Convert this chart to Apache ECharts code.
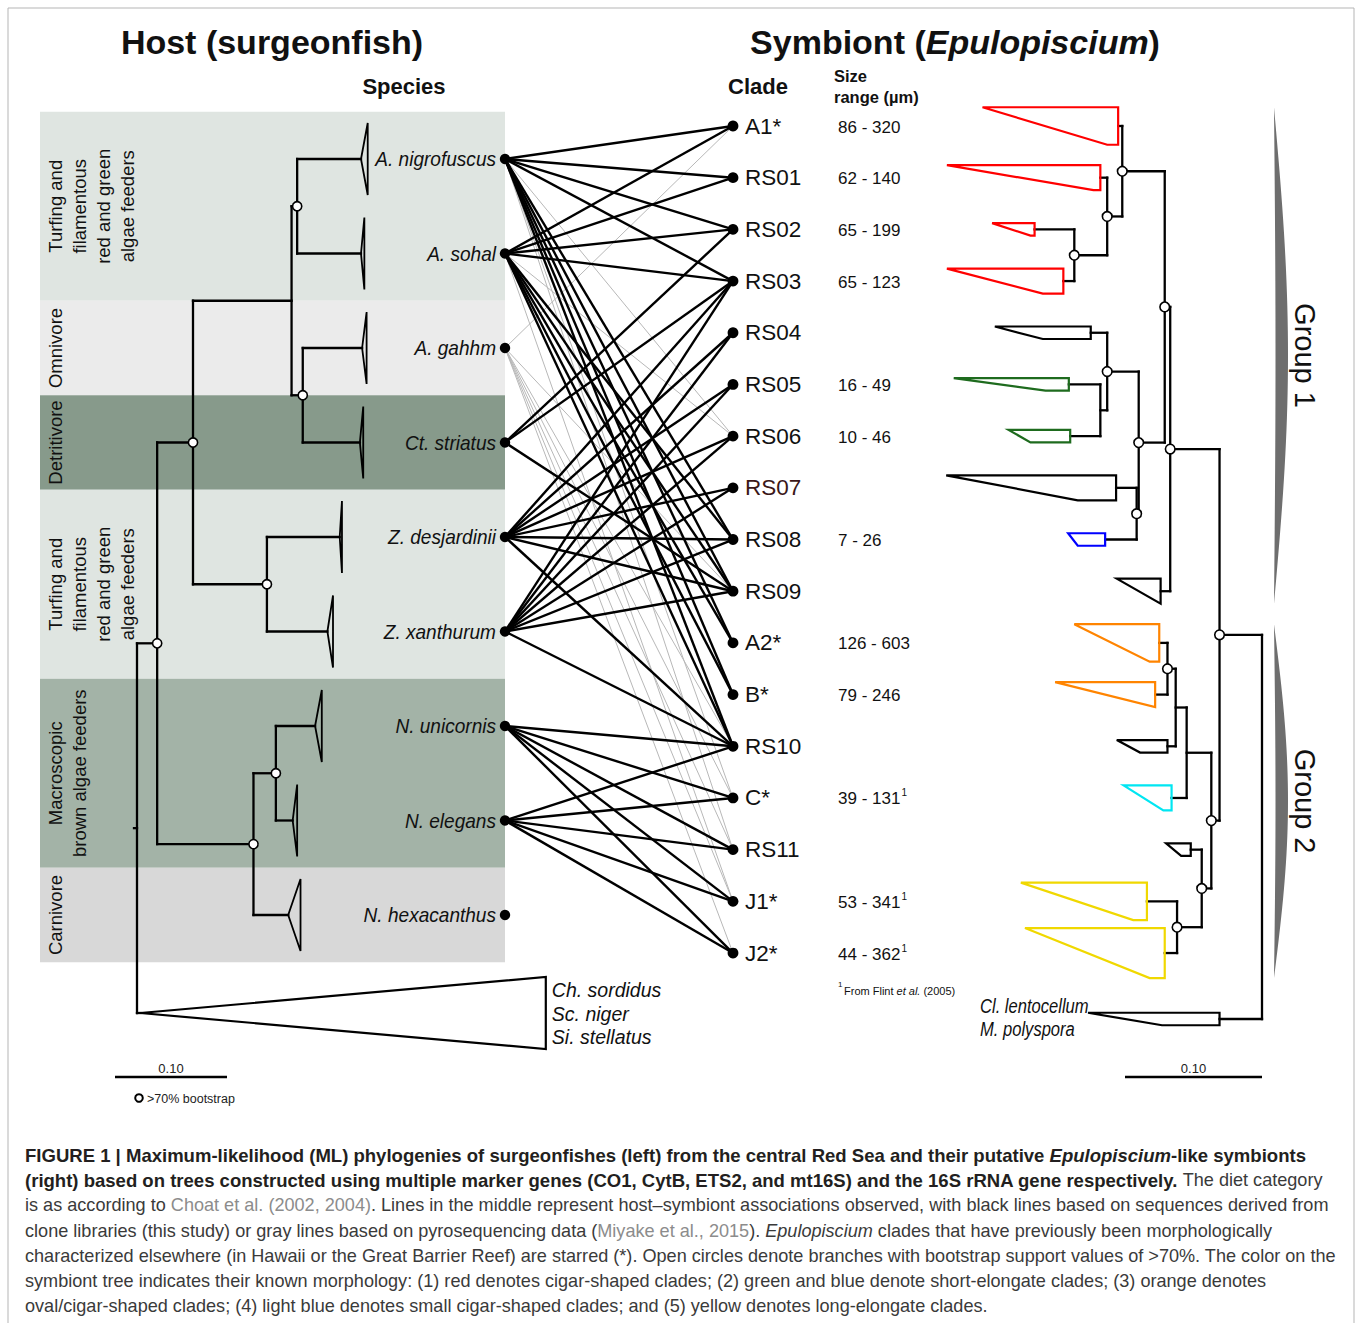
<!DOCTYPE html>
<html><head><meta charset="utf-8">
<script src="https://cdn.jsdelivr.net/npm/echarts@6/dist/echarts.min.js"></script>
<style>html,body{margin:0;padding:0;background:#fff}#chart{width:1358px;height:1323px}</style>
</head><body><div id="chart"></div>
<script>
// ======================= DATA =======================
// Host (surgeonfish) species, top to bottom
const hostSpecies = ['A. nigrofuscus','A. sohal','A. gahhm','Ct. striatus','Z. desjardinii','Z. xanthurum','N. unicornis','N. elegans','N. hexacanthus'];
// Diet categories (Choat et al.) and the host rows they cover
const dietCategories = ['Turfing and\nfilamentous\nred and green\nalgae feeders','Omnivore','Detritivore','Turfing and\nfilamentous\nred and green\nalgae feeders','Macroscopic\nbrown algae feeders','Carnivore'];
const dietKind = ['turf','omni','detr','turf','macro','carn'];
const dietFirstRow = [0,2,3,4,6,8];
const dietLastRow  = [1,2,3,5,7,8];
// Host ML tree (branch lengths in substitutions/site, "b" = bootstrap > 70%)
const hostTreeNewick = "(((((A. nigrofuscus:0.057,A. sohal:0.057)b:0.005,(A. gahhm:0.053,Ct. striatus:0.051)b:0.010):0.088,(Z. desjardinii:0.065,Z. xanthurum:0.054)b:0.066)b:0.032,((N. unicornis:0.035,N. elegans:0.015)b:0.020,N. hexacanthus:0.031)b:0.086)b:0.018,OUT:0.003);";
// depth of each collapsed host clade (triangle), same order as hostSpecies
const hostCladeDepth = [0.006,0.003,0.004,0.003,0.002,0.005,0.006,0.004,0.011];
const hostOutgroupDepth = 0.362;
const hostOutgroupTaxa = ['Ch. sordidus','Sc. niger','Si. stellatus'];

// Symbiont (Epulopiscium) clades, top to bottom
const symbiontClades = ['A1*','RS01','RS02','RS03','RS04','RS05','RS06','RS07','RS08','RS09','A2*','B*','RS10','C*','RS11','J1*','J2*'];
const sizeRangeMin = [86,62,65,65,null,16,10,null,7,null,126,79,null,39,null,53,44];
const sizeRangeMax = [320,140,199,123,null,49,46,null,26,null,603,246,null,131,null,341,362];
const sizeFromFlint2005 = [0,0,0,0,0,0,0,0,0,0,0,0,0,1,0,1,1];
const cladeMorphology = ['cigar','cigar','cigar','cigar','unknown','short','short','unknown','shortBlue','unknown','oval','oval','unknown','smallCigar','unknown','long','long'];
const cladeSeqCount = [3,2,1,2,1,1,1,2,1,2,3,2,1,2,1,3,4];
const cladeMaxDepth = [0.099,0.112,0.031,0.085,0.070,0.084,0.045,0.124,0.027,0.032,0.062,0.073,0.037,0.035,0.018,0.092,0.102];
const cladeMinDepth = [0.008,0.005,0.003,0.015,0.035,0.017,0.029,0.028,0.020,0.000,0.007,0.000,0.020,0.006,0.007,0.010,0.011];
const symOutgroupTaxa = ['Cl. lentocellum','M. polyspora'];
const symOutgroupMaxDepth = 0.096, symOutgroupMinDepth = 0.042, symOutgroupSeqCount = 1;
const symbiontTreeNewick = "(((((A1*:0.003,(RS01:0.005,(RS02:0.029,RS03:0.008)b:0.024)b:0.011)b:0.031,((RS04:0.012,(RS05:0.023,RS06:0.022):0.005)b:0.023,(RS07:0.015,RS08:0.023)b:0.0015)b:0.019)b:0.004,RS09:0.007)b:0.036,((((A2*:0.006,B*:0.009)b:0.006,RS10:0.006):0.008,C*:0.011):0.018,(RS11:0.008,(J1*:0.022,J2*:0.009)b:0.018)b:0.007)b:0.006)b:0.031,OUT:0.031);";
const symbiontGroups = ['Group 1','Group 2'];
const groupFirstClade = [0,10];
const groupLastClade = [9,16];

// Host–symbiont associations: clone libraries (black) and pyrosequencing (gray)
const cloneLinks = [
  ['A. nigrofuscus', ['A1*','RS01','RS02','RS03','RS08','RS09','A2*','B*','RS10']],
  ['A. sohal',       ['A1*','RS01','RS02','RS03','RS08','RS09','A2*','B*','RS10']],
  ['Ct. striatus',   ['RS02','RS03','RS09']],
  ['Z. desjardinii', ['RS03','RS04','RS05','RS06','RS07','RS08','RS09','RS10']],
  ['Z. xanthurum',   ['RS03','RS04','RS05','RS06','RS07','RS08','RS09','RS10']],
  ['N. unicornis',   ['RS10','C*','RS11','J1*','J2*']],
  ['N. elegans',     ['RS10','C*','RS11','J1*','J2*']]
];
const pyroLinks = [
  ['A. nigrofuscus', ['RS06','C*','RS11']],
  ['A. sohal',       ['RS06','RS08','J1*']],
  ['A. gahhm',       ['A1*','RS09','RS10','C*','RS11','J1*','J2*']]
];
const scaleBarValue = 0.10;

const captionLines = [
  [['b','FIGURE 1 | Maximum-likelihood (ML) phylogenies of surgeonfishes (left) from the central Red Sea and their putative '],['bi','Epulopiscium'],['b','-like symbionts']],
  [['b','(right) based on trees constructed using multiple marker genes (CO1, CytB, ETS2, and mt16S) and the 16S rRNA gene respectively.'],['n',' The diet category']],
  [['n','is as according to '],['g','Choat et al. (2002, 2004)'],['n','. Lines in the middle represent host\u2013symbiont associations observed, with black lines based on sequences derived from']],
  [['n','clone libraries (this study) or gray lines based on pyrosequencing data ('],['g','Miyake et al., 2015'],['n','). '],['i','Epulopiscium'],['n',' clades that have previously been morphologically']],
  [['n','characterized elsewhere (in Hawaii or the Great Barrier Reef) are starred (*). Open circles denote branches with bootstrap support values of >70%. The color on the']],
  [['n','symbiont tree indicates their known morphology: (1) red denotes cigar-shaped clades; (2) green and blue denote short-elongate clades; (3) orange denotes']],
  [['n','oval/cigar-shaped clades; (4) light blue denotes small cigar-shaped clades; and (5) yellow denotes long-elongate clades.']]
];

// ======================= LAYOUT & STYLE =======================
const FONT = '"Liberation Sans", Arial, Helvetica, sans-serif';
const L = {
  W: 1358, H: 1323,
  hostRowTop: 159, hostRowStep: 94.5, hostOutgroupY: 1013,
  cladeRowTop: 126, cladeRowStep: 51.69, symOutgroupY: 1019,
  hostDotX: 505, cladeDotX: 733, bandLeft: 40,
  hostRootX: 137, hostPx: 1120, hostTriHalf: 36,
  symRootX: 1262, symPx: 1370, seqUnit: 12.5,
  sizeX: 838, lensX: 1274, lensW: 14, groupLabelX: 1305,
  scaleBarY: 1077, hostBarLeft: 115
};
const dietColor = {turf:'#dfe5e1', omni:'#ebebeb', detr:'#879a8b', macro:'#a3b3a7', carn:'#d8d8d8'};
const morphColor = {cigar:'#ff0000', short:'#1e6b1e', shortBlue:'#0000ff', oval:'#ff8400', smallCigar:'#00e6f2', long:'#f0d800', unknown:'#000000'};
const TREE_W = 2.3;

const hostY = i => L.hostRowTop + i * L.hostRowStep;
const cladeY = i => L.cladeRowTop + i * L.cladeRowStep;

// ======================= HELPERS =======================
function parseNewick(s) {
  let i = 0;
  function node() {
    const n = {children: [], name: '', len: 0, boot: false};
    if (s[i] === '(') {
      i++;
      n.children.push(node());
      while (s[i] === ',') { i++; n.children.push(node()); }
      i++;
    }
    let name = '';
    while (i < s.length && !',():;'.includes(s[i])) name += s[i++];
    if (n.children.length) n.boot = (name === 'b'); else n.name = name;
    if (s[i] === ':') { i++; let num = ''; while (i < s.length && !',();'.includes(s[i])) num += s[i++]; n.len = parseFloat(num); }
    return n;
  }
  return node();
}
function layoutTree(root, rootX, dir, px, leafY) {
  (function walk(n, d) {
    n.depth = d + n.len;
    n.x = rootX + dir * n.depth * px;
    if (n.children.length) {
      n.children.forEach(c => walk(c, n.depth));
      n.y = (n.children[0].y + n.children[n.children.length - 1].y) / 2;
    } else n.y = leafY(n.name);
  })(root, 0);
}
function collectTree(n, segs, boots, leaves) {
  if (n.children.length) {
    const ys = n.children.map(c => c.y);
    segs.push([[n.x, Math.min(...ys)], [n.x, Math.max(...ys)]]);
    n.children.forEach(c => { segs.push([[n.x, c.y], [c.x, c.y]]); collectTree(c, segs, boots, leaves); });
    if (n.boot) boots.push(n);
  } else leaves.push(n);
}
const mctx = document.createElement('canvas').getContext('2d');
function textW(str, size, weight, style) { mctx.font = (style||'normal') + ' ' + (weight||'normal') + ' ' + size + 'px ' + FONT; return mctx.measureText(str).width; }

function T(x, y, text, o) {
  o = o || {};
  return {kind:'text', pts:[[x,y]], rotation:o.rotation||0, scaleX:o.scaleX||1,
    style:{text:text, fill:o.fill||'#000', fontSize:o.size||14, fontFamily:FONT, fontWeight:o.weight||'normal',
      fontStyle:o.italic?'italic':'normal', align:o.align||'left', verticalAlign:o.va||'middle',
      lineHeight:o.lh, rich:o.rich}};
}
function toElement(p, api) {
  const c = v => api.coord(v);
  if (p.kind === 'line') { const a = c(p.pts[0]), b = c(p.pts[1]);
    return {type:'line', shape:{x1:a[0],y1:a[1],x2:b[0],y2:b[1]}, style:p.style}; }
  if (p.kind === 'poly') return {type:'polygon', shape:{points:p.pts.map(c)}, style:p.style};
  if (p.kind === 'circle') { const a = c(p.pts[0]); return {type:'circle', shape:{cx:a[0],cy:a[1],r:p.r}, style:p.style}; }
  if (p.kind === 'rect') { const a = c(p.pts[0]), b = c(p.pts[1]);
    return {type:'rect', shape:{x:Math.min(a[0],b[0]), y:Math.min(a[1],b[1]), width:Math.abs(b[0]-a[0]), height:Math.abs(b[1]-a[1])}, style:p.style}; }
  if (p.kind === 'text') { const a = c(p.pts[0]);
    return {type:'text', x:a[0], y:a[1], rotation:p.rotation, scaleX:p.scaleX, scaleY:1, style:p.style}; }
}
function layer(name, prims, z) {
  return {type:'custom', name:name, coordinateSystem:'cartesian2d', z:z, silent:true, animation:false,
    data: prims.map(p => p.pts[0]), renderItem: (params, api) => toElement(prims[params.dataIndex], api)};
}

// ======================= BUILD =======================
const bands = [], assocGray = [], assocBlack = [], treeLines = [], shapes = [], circles = [], dots = [], texts = [], misc = [];

// diet bands + labels
dietCategories.forEach((name, k) => {
  const top = hostY(dietFirstRow[k]) - L.hostRowStep / 2, bot = hostY(dietLastRow[k]) + L.hostRowStep / 2;
  bands.push({kind:'rect', pts:[[L.bandLeft, top], [L.hostDotX, bot]], style:{fill:dietColor[dietKind[k]]}});
  const nLines = name.split('\n').length;
  const lh = 24;
  texts.push(T(55 + (nLines - 1) * lh / 2, (top + bot) / 2, name, {size:18.5, align:'center', va:'middle', rotation:Math.PI/2, lh:lh, fill:'#111'}));
});

// associations
function addLinks(list, arr, style) {
  list.forEach(([h, cls]) => cls.forEach(cl => {
    arr.push({kind:'line', pts:[[L.hostDotX, hostY(hostSpecies.indexOf(h))], [L.cladeDotX, cladeY(symbiontClades.indexOf(cl))]], style:style});
  }));
}
addLinks(pyroLinks, assocGray, {stroke:'#b8b8b8', lineWidth:1});
addLinks(cloneLinks, assocBlack, {stroke:'#000', lineWidth:2.4});

// host tree
const hostTree = parseNewick(hostTreeNewick);
layoutTree(hostTree, L.hostRootX, 1, L.hostPx, name => name === 'OUT' ? L.hostOutgroupY : hostY(hostSpecies.indexOf(name)));
{
  const segs = [], boots = [], leaves = [];
  collectTree(hostTree, segs, boots, leaves);
  segs.push([[hostTree.x - 3, hostTree.y], [hostTree.x, hostTree.y]]);
  segs.forEach(s => treeLines.push({kind:'line', pts:s, style:{stroke:'#000', lineWidth:TREE_W, lineCap:'square'}}));
  leaves.forEach(n => {
    const isOut = n.name === 'OUT';
    const w = (isOut ? hostOutgroupDepth : hostCladeDepth[hostSpecies.indexOf(n.name)]) * L.hostPx;
    shapes.push({kind:'poly', pts:[[n.x, n.y], [n.x + w, n.y - L.hostTriHalf], [n.x + w, n.y + L.hostTriHalf]],
      style:{fill: isOut ? '#fff' : 'none', stroke:'#000', lineWidth: isOut ? 2.2 : 1.8, lineJoin:'miter'}});
    if (isOut) hostOutgroupTaxa.forEach((t, k) => texts.push(T(n.x + w + 6, n.y - 23 + k * 23.5, t, {size:19.5, italic:true, fill:'#111'})));
  });
  boots.forEach(n => circles.push({kind:'circle', pts:[[n.x, n.y]], r:4.6, style:{fill:'#fff', stroke:'#000', lineWidth:1.6}}));
}

// host dots + labels
hostSpecies.forEach((s, i) => {
  dots.push({kind:'circle', pts:[[L.hostDotX, hostY(i)]], r:5.2, style:{fill:'#000'}});
  texts.push(T(L.hostDotX - 9, hostY(i), s, {size:20.5, italic:true, align:'right', fill:'#111', scaleX:0.93}));
});

// symbiont tree
const symTree = parseNewick(symbiontTreeNewick);
layoutTree(symTree, L.symRootX, -1, L.symPx, name => name === 'OUT' ? L.symOutgroupY : cladeY(symbiontClades.indexOf(name)));
{
  const segs = [], boots = [], leaves = [];
  collectTree(symTree, segs, boots, leaves);
  segs.forEach(s => treeLines.push({kind:'line', pts:s, style:{stroke:'#000', lineWidth:TREE_W, lineCap:'square'}}));
  leaves.forEach(n => {
    const isOut = n.name === 'OUT';
    const k = symbiontClades.indexOf(n.name);
    const far = (isOut ? symOutgroupMaxDepth : cladeMaxDepth[k]) * L.symPx;
    const near = (isOut ? symOutgroupMinDepth : cladeMinDepth[k]) * L.symPx;
    const h = (isOut ? symOutgroupSeqCount : cladeSeqCount[k]) * L.seqUnit / 2;
    const col = isOut ? '#000' : morphColor[cladeMorphology[k]];
    shapes.push({kind:'poly', pts:[[n.x, n.y - h], [n.x - far, n.y - h], [n.x - near, n.y + h], [n.x, n.y + h]],
      style:{fill:'none', stroke:col, lineWidth:2.2, lineJoin:'miter'}});
    if (isOut) symOutgroupTaxa.forEach((t, j) => texts.push(T(n.x - far - 108, n.y - 12 + j * 23, t, {size:19.5, italic:true, fill:'#111', scaleX:0.85})));
  });
  boots.forEach(n => circles.push({kind:'circle', pts:[[n.x, n.y]], r:4.8, style:{fill:'#fff', stroke:'#000', lineWidth:1.6}}));
}

// clade dots, labels and size ranges
symbiontClades.forEach((c, i) => {
  const y = cladeY(i);
  dots.push({kind:'circle', pts:[[L.cladeDotX, y]], r:5.4, style:{fill:'#000'}});
  texts.push(T(L.cladeDotX + 12, y, c, {size:22.5, fill: c === 'RS07' ? '#3b1717' : '#111'}));
  if (sizeRangeMin[i] != null) {
    const s = sizeRangeMin[i] + ' - ' + sizeRangeMax[i];
    texts.push(T(L.sizeX, y + 1, s, {size:17, fill:'#111'}));
    if (sizeFromFlint2005[i]) texts.push(T(L.sizeX + textW(s, 17) + 1, y - 5, '1', {size:10, fill:'#111'}));
  }
});

// group lenses
symbiontGroups.forEach((g, k) => {
  const a = groupFirstClade[k], b = groupLastClade[k];
  const top = cladeY(a) - cladeSeqCount[a] * L.seqUnit / 2, bot = cladeY(b) + cladeSeqCount[b] * L.seqUnit / 2;
  const pts = [];
  for (let t = 0; t <= 40; t++) { const f = t / 40; pts.push([L.lensX + L.lensW * Math.sin(Math.PI * f), top + (bot - top) * f]); }
  for (let t = 40; t >= 0; t--) { const f = t / 40; pts.push([L.lensX + 1.5 * Math.sin(Math.PI * f), top + (bot - top) * f]); }
  shapes.push({kind:'poly', pts:pts, style:{fill:'#6e6e6e', stroke:'none'}});
  texts.push(T(L.groupLabelX, (top + bot) / 2, g, {size:29, align:'center', rotation:-Math.PI/2, fill:'#111'}));
});

// headers
texts.push(T(272, 42, 'Host (surgeonfish)', {size:34, weight:'bold', align:'center', fill:'#111'}));
texts.push(T(955, 42, '{b|Symbiont (}{bi|Epulopiscium}{b|)}', {size:34, weight:'bold', align:'center', fill:'#111',
  rich:{b:{fontSize:34, fontWeight:'bold', fontFamily:FONT, fill:'#111', color:'#111'}, bi:{fontSize:34, fontWeight:'bold', fontStyle:'italic', fontFamily:FONT, fill:'#111', color:'#111'}}}));
texts.push(T(404, 86, 'Species', {size:22, weight:'bold', align:'center', fill:'#111'}));
texts.push(T(758, 86, 'Clade', {size:22, weight:'bold', align:'center', fill:'#111'}));
texts.push(T(834, 76, 'Size', {size:16.5, weight:'bold', fill:'#111'}));
texts.push(T(834, 97, 'range (\u00b5m)', {size:16.5, weight:'bold', fill:'#111'}));

// footnote
texts.push(T(838, 984, '1', {size:8, fill:'#111'}));
const fn = {n:{fontSize:11, fontFamily:FONT, fill:'#111', color:'#111'}, i:{fontSize:11, fontFamily:FONT, fontStyle:'italic', fill:'#111', color:'#111'}};
texts.push(T(844, 991, '{n|From Flint }{i|et al.}{n| (2005)}', {size:11, rich:fn}));

// scale bars
const hostBarW = scaleBarValue * L.hostPx, symBarW = scaleBarValue * L.symPx;
misc.push({kind:'line', pts:[[L.hostBarLeft, L.scaleBarY], [L.hostBarLeft + hostBarW, L.scaleBarY]], style:{stroke:'#000', lineWidth:2.4}});
misc.push({kind:'line', pts:[[L.symRootX - symBarW, L.scaleBarY], [L.symRootX, L.scaleBarY]], style:{stroke:'#000', lineWidth:2.4}});
texts.push(T(L.hostBarLeft + hostBarW / 2, 1068, scaleBarValue.toFixed(2), {size:13, align:'center', fill:'#222'}));
texts.push(T(L.symRootX - symBarW / 2, 1068, scaleBarValue.toFixed(2), {size:13, align:'center', fill:'#222'}));
misc.push({kind:'circle', pts:[[139, 1098]], r:3.8, style:{fill:'#fff', stroke:'#000', lineWidth:2}});
texts.push(T(147, 1099, '>70% bootstrap', {size:12.5, fill:'#222'}));

// caption
const capB = 18.55, capN = 18.1;
const capRich = {
  b:{fontSize:capB, fontWeight:'bold', fontFamily:FONT, fill:'#231f20', color:'#231f20'},
  bi:{fontSize:capB, fontWeight:'bold', fontStyle:'italic', fontFamily:FONT, fill:'#231f20', color:'#231f20'},
  n:{fontSize:capN, fontFamily:FONT, fill:'#3a3a3a', color:'#3a3a3a'},
  i:{fontSize:capN, fontStyle:'italic', fontFamily:FONT, fill:'#3a3a3a', color:'#3a3a3a'},
  g:{fontSize:capN, fontFamily:FONT, fill:'#8c8c8c', color:'#8c8c8c'}
};
captionLines.forEach((segs, k) => {
  const str = segs.map(([s, t]) => '{' + s + '|' + t + '}').join('');
  texts.push(T(25, 1155 + k * 25.2, str, {size:capN, rich:capRich}));
});

// figure border
misc.push({kind:'line', pts:[[8, 8], [1354, 8]], style:{stroke:'#b5b5b5', lineWidth:1}});
misc.push({kind:'line', pts:[[8, 8], [8, 1323]], style:{stroke:'#b5b5b5', lineWidth:1}});
misc.push({kind:'line', pts:[[1354, 8], [1354, 1323]], style:{stroke:'#b5b5b5', lineWidth:1}});

// ======================= CHART =======================
const chart = echarts.init(document.getElementById('chart'), null, {renderer:'svg', width:L.W, height:L.H});
chart.setOption({
  animation:false,
  backgroundColor:'#fff',
  grid:{left:0, right:0, top:0, bottom:0, containLabel:false},
  xAxis:{type:'value', min:0, max:L.W, show:false},
  yAxis:{type:'value', min:0, max:L.H, inverse:true, show:false},
  series:[
    layer('bands', bands, 1),
    layer('pyrosequencing', assocGray, 2),
    layer('clone libraries', assocBlack, 3),
    layer('tree', treeLines, 4),
    layer('clades', shapes, 5),
    layer('bootstrap', circles, 6),
    layer('dots', dots, 7),
    layer('misc', misc, 8),
    layer('text', texts, 9)
  ]
});
</script></body></html>
